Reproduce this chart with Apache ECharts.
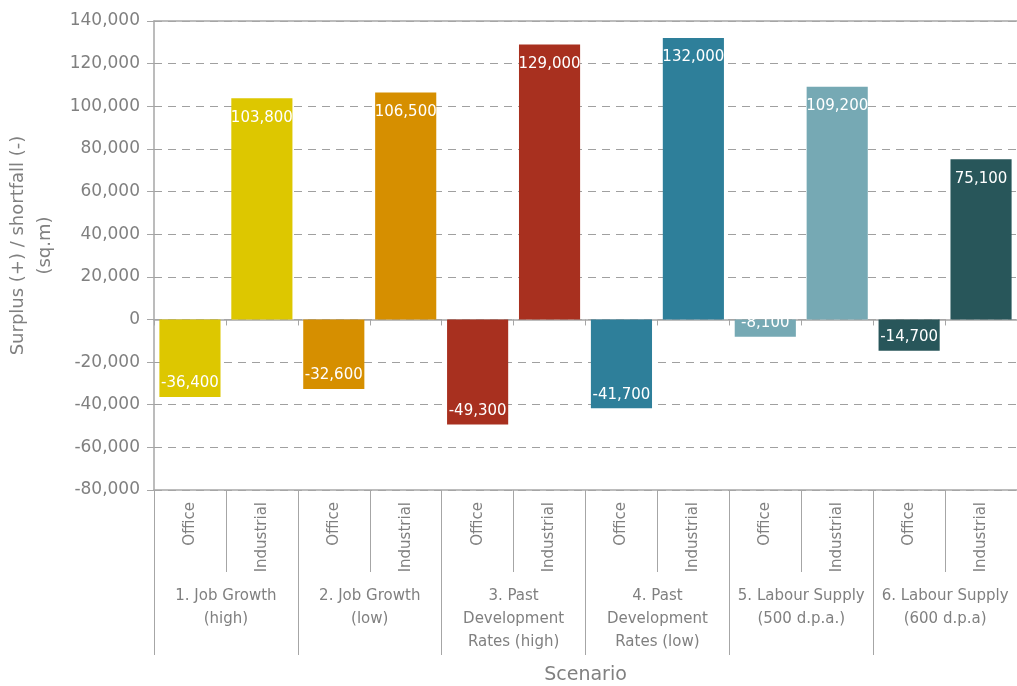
<!DOCTYPE html>
<html>
<head>
<meta charset="utf-8">
<style>
  html, body { margin: 0; padding: 0; background: #ffffff; }
  #chart { width: 1017px; height: 686px; }
</style>
<script src="https://cdn.jsdelivr.net/npm/echarts@6/dist/echarts.min.js"></script>
</head>
<body>
<div id="chart"></div>
<script>
// Scenario groups (outer axis) and land-use types (inner axis)
const scenarios = [
  '1. Job Growth\n(high)',
  '2. Job Growth\n(low)',
  '3. Past\nDevelopment\nRates (high)',
  '4. Past\nDevelopment\nRates (low)',
  '5. Labour Supply\n(500 d.p.a.)',
  '6. Labour Supply\n(600 d.p.a)'
];
const useTypes = ['Office', 'Industrial'];

// Surplus (+) / shortfall (-) in sq.m per scenario
const officeValues = [-36400, -32600, -49300, -41700, -8100, -14700];
const industrialValues = [103800, 106500, 129000, 132000, 109200, 75100];

// One colour per scenario
const scenarioColors = ['#ddc700', '#d68f00', '#a8301f', '#2e7f9a', '#76a9b4', '#28565a'];

// Value axis ticks
const yMin = -80000;
const yMax = 140000;
const yStep = 20000;

const textGrey = '#808080';
const lineGrey = '#a6a6a6';
const fontFamily = 'DejaVu Sans';

// Interleave office/industrial into 12 bars
const categories = [];
const barData = [];
scenarios.forEach((s, i) => {
  [officeValues[i], industrialValues[i]].forEach((v, j) => {
    categories.push(useTypes[j] + '|' + i);
    barData.push({
      value: v,
      itemStyle: { color: scenarioColors[i] },
      label: v < 0
        ? { position: 'insideBottom', distance: 6 }
        : { position: 'insideTop', distance: 12 }
    });
  });
});

const fmt = v => Number(v).toLocaleString('en-US');

const chart = echarts.init(document.getElementById('chart'), null, { renderer: 'canvas' });

chart.setOption({
  animation: false,
  backgroundColor: '#ffffff',
  grid: { left: 154, right: 0, top: 21, bottom: 196, containLabel: false, outerBoundsMode: 'none' },
  xAxis: [
    {
      // inner axis: Office / Industrial
      type: 'category',
      data: categories,
      position: 'bottom',
      axisLine: { show: true, onZero: false, lineStyle: { color: lineGrey, width: 1.5 } },
      axisTick: { show: true, length: 82, interval: 0, lineStyle: { color: lineGrey, width: 1 } },
      axisLabel: {
        interval: 0, rotate: 90, margin: 12,
        color: textGrey, fontSize: 15, fontFamily,
        formatter: v => v.split('|')[0]
      },
      splitLine: { show: false }
    },
    {
      // outer axis: scenario groups
      type: 'category',
      data: scenarios,
      position: 'bottom',
      axisLine: { show: false, onZero: false },
      axisTick: { show: true, length: 165, interval: 0, lineStyle: { color: lineGrey, width: 1 } },
      axisLabel: {
        interval: 0, margin: 95,
        color: textGrey, fontSize: 15, lineHeight: 23, fontFamily, align: 'center'
      },
      name: 'Scenario',
      nameLocation: 'middle',
      nameGap: 176,
      nameTextStyle: { color: textGrey, fontSize: 19, fontFamily },
      splitLine: { show: false }
    },
    {
      // zero baseline with category separators
      type: 'category',
      data: categories,
      position: 'bottom',
      axisLine: { show: true, onZero: true, lineStyle: { color: lineGrey, width: 1.5 } },
      axisTick: { show: true, length: 6, interval: 0, lineStyle: { color: lineGrey, width: 1 } },
      axisLabel: { show: false },
      splitLine: { show: false }
    },
    {
      // top frame line
      type: 'category',
      data: categories,
      position: 'top',
      axisLine: { show: true, onZero: false, lineStyle: { color: lineGrey, width: 1.5 } },
      axisTick: { show: false },
      axisLabel: { show: false },
      splitLine: { show: false }
    }
  ],
  yAxis: {
    type: 'value',
    min: yMin,
    max: yMax,
    interval: yStep,
    axisLine: { show: true, lineStyle: { color: lineGrey, width: 1.5 } },
    axisTick: { show: true, length: 7, lineStyle: { color: lineGrey } },
    axisLabel: { color: textGrey, fontSize: 17, fontFamily, margin: 14, formatter: fmt },
    splitLine: { show: true, lineStyle: { color: '#a0a0a0', type: [8, 6], width: 1 } },
    name: 'Surplus (+) / shortfall (-)\n(sq.m)',
    nameLocation: 'middle',
    nameGap: 94,
    nameTextStyle: { color: textGrey, fontSize: 18, lineHeight: 27, fontFamily, align: 'center', padding: [0, 0, 0, 20] }
  },
  series: [
    {
      type: 'bar',
      xAxisIndex: 0,
      yAxisIndex: 0,
      data: barData,
      barWidth: '85%',
      label: {
        show: true,
        color: '#ffffff',
        fontSize: 15,
        fontFamily,
        formatter: p => fmt(p.value)
      }
    }
  ]
});
</script>
</body>
</html>
